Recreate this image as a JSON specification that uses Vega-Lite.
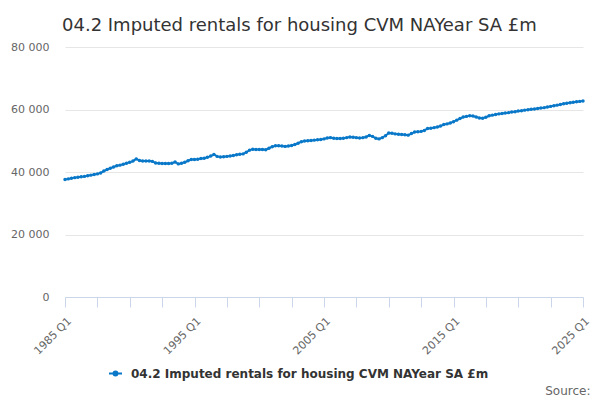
{
  "$schema": "https://vega.github.io/schema/vega-lite/v6.json",
  "autosize": "none",
  "width": 518,
  "height": 250,
  "padding": {"left": 65, "top": 47, "right": 17, "bottom": 103},
  "background": "white",
  "config": {
    "font": "DejaVu Sans",
    "view": {"stroke": null}
  },
  "title": {
    "text": "04.2 Imputed rentals for housing CVM NAYear SA £m",
    "anchor": "start",
    "frame": "group",
    "dx": -3,
    "offset": -8,
    "baseline": "alphabetic",
    "fontSize": 18,
    "fontWeight": "normal",
    "color": "#333333",
    "font": "DejaVu Sans"
  },
  "data": {
    "values": [
      {"q": "1985 Q1", "v": 37600}, {"q": "1985 Q2", "v": 37800}, {"q": "1985 Q3", "v": 38000}, {"q": "1985 Q4", "v": 38200},
      {"q": "1986 Q1", "v": 38300}, {"q": "1986 Q2", "v": 38500}, {"q": "1986 Q3", "v": 38600}, {"q": "1986 Q4", "v": 38800},
      {"q": "1987 Q1", "v": 39000}, {"q": "1987 Q2", "v": 39200}, {"q": "1987 Q3", "v": 39400}, {"q": "1987 Q4", "v": 39700},
      {"q": "1988 Q1", "v": 40300}, {"q": "1988 Q2", "v": 40800}, {"q": "1988 Q3", "v": 41200}, {"q": "1988 Q4", "v": 41600},
      {"q": "1989 Q1", "v": 42000}, {"q": "1989 Q2", "v": 42200}, {"q": "1989 Q3", "v": 42500}, {"q": "1989 Q4", "v": 42800},
      {"q": "1990 Q1", "v": 43100}, {"q": "1990 Q2", "v": 43500}, {"q": "1990 Q3", "v": 44200}, {"q": "1990 Q4", "v": 43700},
      {"q": "1991 Q1", "v": 43500}, {"q": "1991 Q2", "v": 43500}, {"q": "1991 Q3", "v": 43500}, {"q": "1991 Q4", "v": 43400},
      {"q": "1992 Q1", "v": 42900}, {"q": "1992 Q2", "v": 42800}, {"q": "1992 Q3", "v": 42700}, {"q": "1992 Q4", "v": 42700},
      {"q": "1993 Q1", "v": 42700}, {"q": "1993 Q2", "v": 42800}, {"q": "1993 Q3", "v": 43200}, {"q": "1993 Q4", "v": 42600},
      {"q": "1994 Q1", "v": 42800}, {"q": "1994 Q2", "v": 43100}, {"q": "1994 Q3", "v": 43600}, {"q": "1994 Q4", "v": 44000},
      {"q": "1995 Q1", "v": 44000}, {"q": "1995 Q2", "v": 44100}, {"q": "1995 Q3", "v": 44300}, {"q": "1995 Q4", "v": 44400},
      {"q": "1996 Q1", "v": 44700}, {"q": "1996 Q2", "v": 45100}, {"q": "1996 Q3", "v": 45600}, {"q": "1996 Q4", "v": 45000},
      {"q": "1997 Q1", "v": 44800}, {"q": "1997 Q2", "v": 44900}, {"q": "1997 Q3", "v": 45000}, {"q": "1997 Q4", "v": 45100},
      {"q": "1998 Q1", "v": 45300}, {"q": "1998 Q2", "v": 45500}, {"q": "1998 Q3", "v": 45700}, {"q": "1998 Q4", "v": 45800},
      {"q": "1999 Q1", "v": 46300}, {"q": "1999 Q2", "v": 47000}, {"q": "1999 Q3", "v": 47300}, {"q": "1999 Q4", "v": 47200},
      {"q": "2000 Q1", "v": 47200}, {"q": "2000 Q2", "v": 47200}, {"q": "2000 Q3", "v": 47100}, {"q": "2000 Q4", "v": 47600},
      {"q": "2001 Q1", "v": 48100}, {"q": "2001 Q2", "v": 48400}, {"q": "2001 Q3", "v": 48400}, {"q": "2001 Q4", "v": 48300},
      {"q": "2002 Q1", "v": 48200}, {"q": "2002 Q2", "v": 48300}, {"q": "2002 Q3", "v": 48500}, {"q": "2002 Q4", "v": 48800},
      {"q": "2003 Q1", "v": 49200}, {"q": "2003 Q2", "v": 49700}, {"q": "2003 Q3", "v": 49900}, {"q": "2003 Q4", "v": 50000},
      {"q": "2004 Q1", "v": 50100}, {"q": "2004 Q2", "v": 50200}, {"q": "2004 Q3", "v": 50300}, {"q": "2004 Q4", "v": 50400},
      {"q": "2005 Q1", "v": 50600}, {"q": "2005 Q2", "v": 50900}, {"q": "2005 Q3", "v": 51000}, {"q": "2005 Q4", "v": 50800},
      {"q": "2006 Q1", "v": 50700}, {"q": "2006 Q2", "v": 50700}, {"q": "2006 Q3", "v": 50800}, {"q": "2006 Q4", "v": 51000},
      {"q": "2007 Q1", "v": 51200}, {"q": "2007 Q2", "v": 51100}, {"q": "2007 Q3", "v": 51000}, {"q": "2007 Q4", "v": 50900},
      {"q": "2008 Q1", "v": 51000}, {"q": "2008 Q2", "v": 51200}, {"q": "2008 Q3", "v": 51700}, {"q": "2008 Q4", "v": 51400},
      {"q": "2009 Q1", "v": 50800}, {"q": "2009 Q2", "v": 50600}, {"q": "2009 Q3", "v": 51000}, {"q": "2009 Q4", "v": 51600},
      {"q": "2010 Q1", "v": 52500}, {"q": "2010 Q2", "v": 52400}, {"q": "2010 Q3", "v": 52200}, {"q": "2010 Q4", "v": 52100},
      {"q": "2011 Q1", "v": 52000}, {"q": "2011 Q2", "v": 51900}, {"q": "2011 Q3", "v": 51800}, {"q": "2011 Q4", "v": 52300},
      {"q": "2012 Q1", "v": 52800}, {"q": "2012 Q2", "v": 52900}, {"q": "2012 Q3", "v": 53000}, {"q": "2012 Q4", "v": 53300},
      {"q": "2013 Q1", "v": 53900}, {"q": "2013 Q2", "v": 54000}, {"q": "2013 Q3", "v": 54200}, {"q": "2013 Q4", "v": 54400},
      {"q": "2014 Q1", "v": 54700}, {"q": "2014 Q2", "v": 55200}, {"q": "2014 Q3", "v": 55400}, {"q": "2014 Q4", "v": 55700},
      {"q": "2015 Q1", "v": 56100}, {"q": "2015 Q2", "v": 56600}, {"q": "2015 Q3", "v": 57100}, {"q": "2015 Q4", "v": 57600},
      {"q": "2016 Q1", "v": 57800}, {"q": "2016 Q2", "v": 58000}, {"q": "2016 Q3", "v": 57900}, {"q": "2016 Q4", "v": 57600},
      {"q": "2017 Q1", "v": 57300}, {"q": "2017 Q2", "v": 57200}, {"q": "2017 Q3", "v": 57500}, {"q": "2017 Q4", "v": 58000},
      {"q": "2018 Q1", "v": 58200}, {"q": "2018 Q2", "v": 58400}, {"q": "2018 Q3", "v": 58600}, {"q": "2018 Q4", "v": 58700},
      {"q": "2019 Q1", "v": 58900}, {"q": "2019 Q2", "v": 59000}, {"q": "2019 Q3", "v": 59200}, {"q": "2019 Q4", "v": 59300},
      {"q": "2020 Q1", "v": 59500}, {"q": "2020 Q2", "v": 59600}, {"q": "2020 Q3", "v": 59800}, {"q": "2020 Q4", "v": 59900},
      {"q": "2021 Q1", "v": 60050}, {"q": "2021 Q2", "v": 60150}, {"q": "2021 Q3", "v": 60300}, {"q": "2021 Q4", "v": 60500},
      {"q": "2022 Q1", "v": 60600}, {"q": "2022 Q2", "v": 60800}, {"q": "2022 Q3", "v": 61000}, {"q": "2022 Q4", "v": 61200},
      {"q": "2023 Q1", "v": 61400}, {"q": "2023 Q2", "v": 61600}, {"q": "2023 Q3", "v": 61850}, {"q": "2023 Q4", "v": 62000},
      {"q": "2024 Q1", "v": 62150}, {"q": "2024 Q2", "v": 62300}, {"q": "2024 Q3", "v": 62450}, {"q": "2024 Q4", "v": 62600},
      {"q": "2025 Q1", "v": 62750}
    ]
  },
  "mark": {
    "type": "line",
    "strokeWidth": 2,
    "point": {"filled": true, "size": 12}
  },
  "encoding": {
    "x": {
      "field": "q",
      "type": "ordinal",
      "sort": null,
      "scale": {"type": "point", "padding": 0},
      "axis": {
        "title": "Source:",
        "titleX": 525,
        "titleY": 97,
        "titleAlign": "right",
        "titleBaseline": "alphabetic",
        "titleFontSize": 12,
        "titleFontWeight": "normal",
        "titleColor": "#666666",
        "values": ["1985 Q1", "1987 Q3", "1990 Q1", "1992 Q3", "1995 Q1", "1997 Q3", "2000 Q1", "2002 Q3", "2005 Q1", "2007 Q3", "2010 Q1", "2012 Q3", "2015 Q1", "2017 Q3", "2020 Q1", "2022 Q3", "2025 Q1"],
        "labelExpr": "indexof(['1985 Q1', '1995 Q1', '2005 Q1', '2015 Q1', '2025 Q1'], datum.value) >= 0 ? datum.value : ''",
        "labelAngle": -45,
        "labelAlign": "right",
        "labelBaseline": "top",
        "labelPadding": 8,
        "labelFontSize": 11,
        "labelColor": "#666666",
        "labelOverlap": false,
        "domainColor": "#ccd6eb",
        "tickColor": "#ccd6eb",
        "tickSize": 10,
        "grid": false
      }
    },
    "y": {
      "field": "v",
      "type": "quantitative",
      "scale": {"domain": [0, 80000], "nice": false},
      "axis": {
        "title": null,
        "values": [0, 20000, 40000, 60000, 80000],
        "labelExpr": "replace(format(datum.value, ','), ',', ' ')",
        "labelFontSize": 11,
        "labelColor": "#666666",
        "labelPadding": 16,
        "domain": false,
        "ticks": false,
        "gridColor": "#e6e6e6"
      }
    },
    "color": {
      "datum": "04.2 Imputed rentals for housing CVM NAYear SA £m",
      "scale": {"range": ["#0a78c8"]},
      "legend": {
        "title": null,
        "orient": "none",
        "legendX": 43,
        "legendY": 319,
        "symbolType": "M-1,0H1M-0.3,0A0.3,0.3 0 1,0 0.3,0A0.3,0.3 0 1,0 -0.3,0Z",
        "symbolSize": 169,
        "symbolStrokeWidth": 2,
        "symbolFillColor": "#0a78c8",
        "symbolStrokeColor": "#0a78c8",
        "labelFontSize": 12,
        "labelFontWeight": "bold",
        "labelColor": "#333333",
        "labelOffset": 8,
        "labelLimit": 0
      }
    }
  }
}
